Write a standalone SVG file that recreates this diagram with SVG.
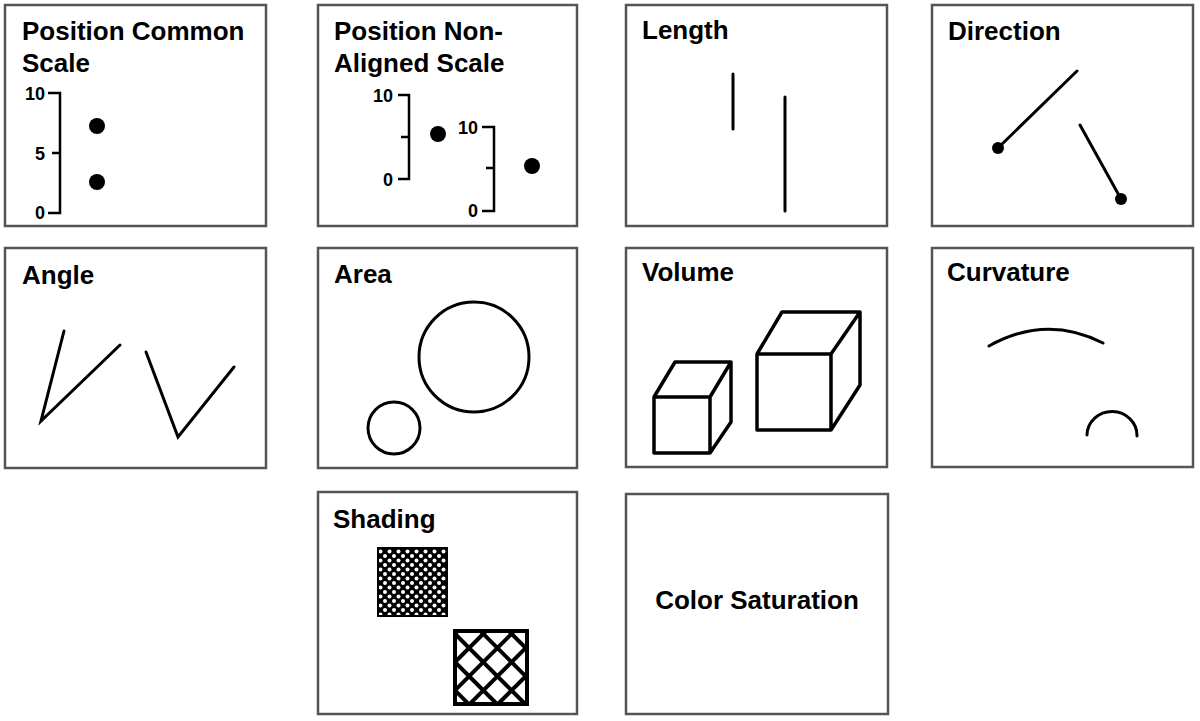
<svg xmlns="http://www.w3.org/2000/svg" width="1200" height="721" viewBox="0 0 1200 721">
<style>
.box{fill:#fff;stroke:#555;stroke-width:2.5}
.t{font-family:"Liberation Sans",Arial,sans-serif;font-weight:bold;font-size:26px;fill:#000}
.n{font-family:"Liberation Sans",Arial,sans-serif;font-weight:bold;font-size:18px;fill:#000}
.s{fill:none;stroke:#000;stroke-width:3;stroke-linecap:round}
.ax{fill:none;stroke:#000;stroke-width:2.5}
</style>
<defs>
<pattern id="dots" width="9" height="9" patternUnits="userSpaceOnUse">
<rect width="9" height="9" fill="#000"/>
<circle cx="2.5" cy="2.5" r="2" fill="#fff"/>
<circle cx="7" cy="7" r="2" fill="#fff"/>
</pattern>
<pattern id="hatch" width="20" height="20" patternUnits="userSpaceOnUse" patternTransform="translate(455,631) rotate(45)">
<rect width="20" height="20" fill="#fff"/>
<rect width="20" height="4" fill="#000"/>
<rect width="4" height="20" fill="#000"/>
</pattern>
</defs>
<rect width="1200" height="721" fill="#fff"/>
<g id="pcs">
<rect class="box" x="5" y="5" width="261" height="221"/>
<text class="t" x="22" y="40">Position Common</text>
<text class="t" x="22" y="72">Scale</text>
<path class="ax" d="M48,93 H60 V213 H48 M52,153 H60"/>
<text class="n" x="45" y="100" text-anchor="end">10</text>
<text class="n" x="45" y="160" text-anchor="end">5</text>
<text class="n" x="45" y="219" text-anchor="end">0</text>
<ellipse cx="97" cy="126" rx="8" ry="8"/>
<ellipse cx="97" cy="182" rx="8" ry="8"/>
</g>
<g id="pnas">
<rect class="box" x="318" y="5" width="259" height="221"/>
<text class="t" x="334" y="40">Position Non-</text>
<text class="t" x="334" y="72">Aligned Scale</text>
<path class="ax" d="M398,95 H409 V179 H398 M401,137 H409"/>
<text class="n" x="393" y="102" text-anchor="end">10</text>
<text class="n" x="393" y="186" text-anchor="end">0</text>
<ellipse cx="438" cy="134" rx="8" ry="8"/>
<path class="ax" d="M482,127 H494 V211 H482 M486,168 H494"/>
<text class="n" x="478" y="134" text-anchor="end">10</text>
<text class="n" x="478" y="217" text-anchor="end">0</text>
<ellipse cx="532" cy="166" rx="8" ry="8"/>
</g>
<g id="length">
<rect class="box" x="626" y="5" width="261" height="221"/>
<text class="t" x="642" y="39">Length</text>
<path class="s" d="M733,74 V129 M785,97 V211"/>
</g>
<g id="direction">
<rect class="box" x="932" y="5" width="261" height="221"/>
<text class="t" x="948" y="40">Direction</text>
<path class="s" d="M998,148 L1077,71 M1080,125 L1121,199"/>
<circle cx="998" cy="148" r="6"/>
<circle cx="1121" cy="199" r="6"/>
</g>
<g id="angle">
<rect class="box" x="5" y="248" width="261" height="220"/>
<text class="t" x="22" y="284">Angle</text>
<path class="s" d="M64,331 L41,421 L120,345 M146,352 L178,437 L234,367"/>
</g>
<g id="area">
<rect class="box" x="318" y="248" width="259" height="220"/>
<text class="t" x="334" y="283">Area</text>
<circle cx="474" cy="357" r="55" fill="none" stroke="#000" stroke-width="3"/>
<circle cx="394" cy="428" r="26" fill="none" stroke="#000" stroke-width="3"/>
</g>
<g id="volume">
<rect class="box" x="626" y="248" width="261" height="219"/>
<text class="t" x="642" y="281">Volume</text>
<g fill="none" stroke="#000" stroke-width="3.5" stroke-linejoin="round">
<path d="M654,397 H710 V453 H654 Z M654,397 L675,362 H731 L710,397 M731,362 V422 L710,453"/>
<path d="M757,354 H831 V430 H757 Z M757,354 L782,312 H860 L831,354 M860,312 V385 L831,430"/>
</g>
</g>
<g id="curvature">
<rect class="box" x="932" y="248" width="261" height="219"/>
<text class="t" x="947" y="281">Curvature</text>
<path class="s" d="M989,346 Q1046,314 1103,343 M1087,435 A25,24 0 0 1 1137,436"/>
</g>
<g id="shading">
<rect class="box" x="318" y="492" width="259" height="222"/>
<text class="t" x="333" y="528">Shading</text>
<rect x="378" y="548" width="69" height="68" fill="url(#dots)" stroke="#000" stroke-width="2"/>
<rect x="455" y="631" width="72" height="73" fill="url(#hatch)" stroke="#000" stroke-width="4"/>
</g>
<g id="colorsat">
<rect class="box" x="626" y="494" width="262" height="220"/>
<text class="t" x="757" y="609" text-anchor="middle">Color Saturation</text>
</g>
<g id="connectors"/>
</svg>
